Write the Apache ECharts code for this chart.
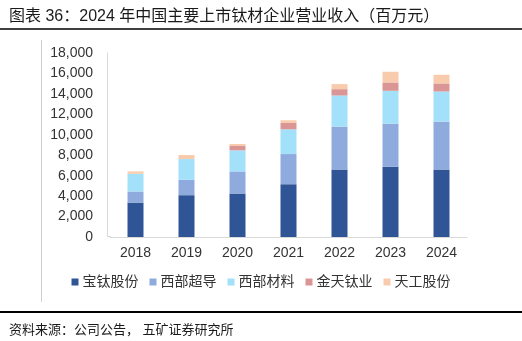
<!DOCTYPE html>
<html><head><meta charset="utf-8">
<script src="https://cdn.jsdelivr.net/npm/echarts@6/dist/echarts.min.js"></script>
<style>html,body{margin:0;padding:0;background:#fff}#c{width:522px;height:341px}</style>
</head><body><div id="c"></div>
<script>
const years = ['2018','2019','2020','2021','2022','2023','2024'];
const baotai = [3370, 4090, 4254, 5170, 6610, 6872, 6610];
const xibuChaodao = [1080, 1505, 2160, 2945, 4190, 4221, 4680];
const xibuCailiao = [1735, 2030, 2061, 2422, 3042, 3207, 2944];
const jintian = [0, 0, 425, 621, 622, 818, 786];
const tiangong = [229, 392, 197, 262, 491, 1047, 850];
const names = ['宝钛股份','西部超导','西部材料','金天钛业','天工股份'];
const colors = ['#2F5597','#8FAADC','#A3E1FA','#D99694','#F8CBAD'];
const data = [baotai, xibuChaodao, xibuCailiao, jintian, tiangong];
const font = '"Liberation Sans", Arial, "Noto Sans CJK SC", sans-serif';
const chart = echarts.init(document.getElementById('c'), null, {renderer:'canvas'});
chart.setOption({
  animation:false,
  textStyle:{fontFamily:font},
  title:[
    {text:'图表 36：2024 年中国主要上市钛材企业营业收入（百万元）', left:4, top:4,
     textStyle:{fontSize:16, fontWeight:'normal', color:'#1a1a1a', fontFamily:font}},
    {text:'资料来源：公司公告， 五矿证券研究所', left:4, top:319,
     textStyle:{fontSize:13, fontWeight:'normal', color:'#1a1a1a', fontFamily:font}}
  ],
  graphic:[
    {type:'line', shape:{x1:0,y1:29,x2:522,y2:29}, style:{stroke:'#000', lineWidth:1.5}},
    {type:'line', shape:{x1:0,y1:312,x2:522,y2:312}, style:{stroke:'#000', lineWidth:2}},
    {type:'line', shape:{x1:41.5,y1:40,x2:41.5,y2:302}, style:{stroke:'#d0d0d0', lineWidth:1}},
    {type:'line', shape:{x1:107,y1:236.5,x2:111,y2:236.5}, style:{stroke:'#d9d9d9', lineWidth:1}}
  ],
  legend:{
    data:names, bottom:47, left:'center', icon:'rect', itemWidth:7, itemHeight:7, itemGap:11,
    textStyle:{fontSize:14, color:'#333', padding:[0,0,0,-1]}
  },
  grid:{left:110, right:55, top:53, bottom:104},
  xAxis:{type:'category', data:years,
    axisLine:{lineStyle:{color:'#d9d9d9'}}, axisTick:{show:false},
    axisLabel:{fontSize:14, color:'#333', margin:9}},
  yAxis:{type:'value', min:0, max:18000, interval:2000, offset:3,
    axisLine:{show:true, lineStyle:{color:'#d9d9d9'}}, axisTick:{show:false},
    splitLine:{show:false},
    axisLabel:{fontSize:14, color:'#333', margin:14,
      formatter:v=>v.toLocaleString('en-US')}},
  series: names.map((n,i)=>({name:n, type:'bar', stack:'s', data:data[i], barWidth:16,
    itemStyle:{color:colors[i]}}))
});
</script></body></html>
